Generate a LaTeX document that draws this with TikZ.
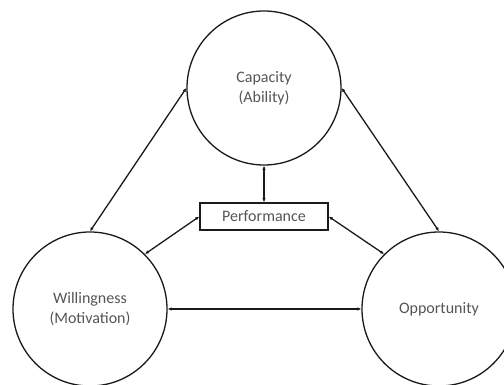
\documentclass[tikz,border=0pt]{standalone}
\usepackage{fontspec}
\setmainfont{Carlito}
\usepackage{xcolor}
\usetikzlibrary{arrows.meta}
\definecolor{line}{HTML}{1A1A1A}
\definecolor{label}{HTML}{555555}
\tikzset{
  factor/.style={circle, draw=line, line width=1.3pt, minimum size=154pt, inner sep=0pt,
    align=center, text=label, font=\fontsize{16}{20}\selectfont},
  perfbox/.style={rectangle, draw=line, line width=1.3pt, minimum width=128pt, minimum height=27pt,
    inner sep=0pt, text=label, font=\fontsize{16}{20}\selectfont},
  link/.style={{Latex[length=4pt,width=3.5pt]}-{Latex[length=4pt,width=3.5pt]}, line width=1.3pt, draw=line}
}

\begin{document}
\begin{tikzpicture}[x=1pt,y=1pt]
  \clip (0,0) rectangle (504,385);
  \useasboundingbox (0,0) rectangle (504,385);
  % the three factors
  \node[factor] (cap) at (264,297) {Capacity\\(Ability)};
  \node[factor] (will) at (90,76) {Willingness\\(Motivation)};
  \node[factor] (opp) at (439,76) {Opportunity};
  \node[perfbox] (perf) at (264,168.5) {Performance};
  % links
  \draw[link] (cap.west) -- (will.north);
  \draw[link] (cap.east) -- (opp.north);
  \draw[link] (will.east) -- (opp.west);
  \draw[link] (perf.north) -- (cap.south);
  \draw[link] (will.45) -- (perf.west);
  \draw[link] (opp.135) -- (perf.east);
\end{tikzpicture}
\end{document}
